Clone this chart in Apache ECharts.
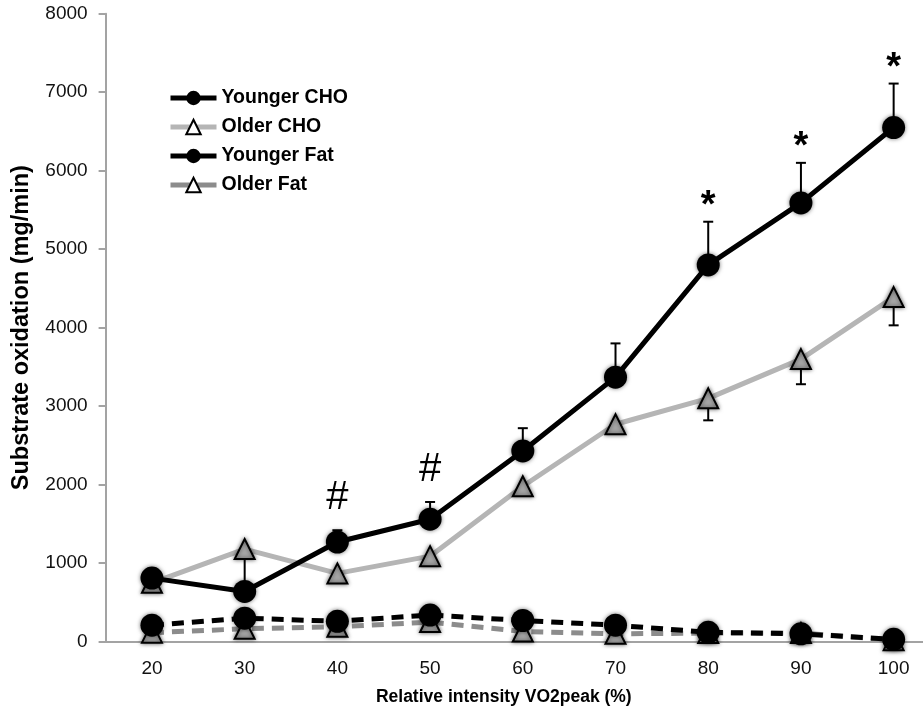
<!DOCTYPE html>
<html>
<head>
<meta charset="utf-8">
<script src="https://cdn.jsdelivr.net/npm/echarts@6/dist/echarts.min.js"></script>
<style>
  html, body { margin: 0; padding: 0; background: #fff; overflow: hidden; }
  /* plot area runs past the right edge of the page, like the source figure */
  #chart { width: 940px; height: 712px; }
</style>
</head>
<body>
<div id="chart"></div>
<script>
const intensities = ['20', '30', '40', '50', '60', '70', '80', '90', '100']
const yTicks = [0, 8000, 1000]

const youngerCho = [810, 640, 1270, 1560, 2430, 3370, 4800, 5590, 6550]
const olderCho = [750, 1180, 870, 1090, 1980, 2770, 3100, 3600, 4390]
const youngerFat = [210, 300, 260, 340, 270, 210, 120, 100, 30]
const olderFat = [115, 165, 190, 250, 130, 100, 110, 110, 20]

// SD bars: younger CHO drawn upward, older CHO drawn downward
const youngerChoSd = [0, 0, 150, 220, 290, 430, 550, 510, 560]
const olderChoSd = [0, 540, 0, 0, 0, 90, 280, 320, 360]
const marks = ['', '', '#', '#', '', '', '*', '*', '*']

const chart = echarts.init(document.getElementById('chart'))
const fontFamily = '"Liberation Sans", Arial, sans-serif'
const axisGray = '#a3a3a3'

function errorBars(values, sds, dir, withMarks) {
  return {
    type: 'custom',
    z: 1,
    silent: true,
    data: values.map((v, i) => [i, v, sds[i]]),
    renderItem(params, api) {
      const i = api.value(0)
      const v = api.value(1)
      const sd = api.value(2)
      const p0 = api.coord([i, v])
      const p1 = api.coord([i, v + dir * sd])
      const children = []
      if (sd > 0) {
        children.push({
          type: 'line',
          shape: { x1: p0[0], y1: p0[1], x2: p1[0], y2: p1[1] },
          style: { stroke: '#000', lineWidth: 2 }
        })
        children.push({
          type: 'line',
          shape: { x1: p1[0] - 5, y1: p1[1], x2: p1[0] + 5, y2: p1[1] },
          style: { stroke: '#000', lineWidth: 2 }
        })
      }
      const mark = withMarks ? marks[params.dataIndex] : ''
      if (mark) {
        const isHash = mark === '#'
        children.push({
          type: 'text',
          x: p1[0],
          y: p1[1] - (isHash ? 12 : -4),
          style: {
            text: mark,
            fill: '#000',
            font: isHash ? '40px "Liberation Sans", Arial' : 'bold 38px "Liberation Sans", Arial',
            align: 'center',
            verticalAlign: 'bottom'
          }
        })
      }
      return { type: 'group', children }
    }
  }
}

const markerShadow = { shadowBlur: 4, shadowColor: 'rgba(0,0,0,0.55)' }

chart.setOption({
  backgroundColor: '#fff',
  animation: false,
  textStyle: { fontFamily },
  legend: {
    orient: 'vertical',
    left: 163,
    top: 83,
    itemWidth: 46,
    itemHeight: 18,
    itemGap: 9,
    lineStyle: { type: 'solid', width: 5 },
    textStyle: { fontSize: 19.5, fontWeight: 'bold', color: '#000', fontFamily },
    data: [
      { name: 'Younger CHO' },
      { name: 'Older CHO', itemStyle: { color: '#fff', borderColor: '#000', borderWidth: 2 } },
      { name: 'Younger Fat' },
      { name: 'Older Fat', itemStyle: { color: '#fff', borderColor: '#000', borderWidth: 2 } }
    ]
  },
  grid: { left: 105.6, right: 0, top: 13.7, bottom: 70.3 },
  xAxis: {
    type: 'category',
    data: intensities,
    boundaryGap: true,
    name: 'Relative intensity VO2peak (%)',
    nameLocation: 'middle',
    nameGap: 46,
    nameTextStyle: { fontSize: 17.5, fontWeight: 'bold', color: '#000', padding: [0, 38, 0, 0] },
    axisLine: { lineStyle: { color: axisGray, width: 2 } },
    axisTick: { length: 6, lineStyle: { color: axisGray, width: 2 } },
    axisLabel: { fontSize: 19, color: '#111', margin: 18 }
  },
  yAxis: {
    type: 'value',
    min: yTicks[0],
    max: yTicks[1],
    interval: yTicks[2],
    name: 'Substrate oxidation (mg/min)',
    nameLocation: 'middle',
    nameGap: 72,
    nameTextStyle: { fontSize: 23.5, fontWeight: 'bold', color: '#000' },
    axisLine: { show: true, lineStyle: { color: axisGray, width: 2 } },
    axisTick: { show: true, length: 7, lineStyle: { color: axisGray, width: 2 } },
    axisLabel: { fontSize: 19, color: '#111', margin: 18, formatter: v => String(v) },
    splitLine: { show: false }
  },
  series: [
    errorBars(olderCho, olderChoSd, -1, false),
    errorBars(youngerCho, youngerChoSd, 1, true),
    {
      name: 'Older Fat',
      type: 'line',
      z: 2,
      data: olderFat,
      symbol: 'triangle',
      symbolSize: [20, 20],
      lineStyle: { color: '#8c8c8c', width: 5, type: [12, 8] },
      itemStyle: { color: '#a6a6a6', borderColor: '#000', borderWidth: 2, ...markerShadow }
    },
    {
      name: 'Younger Fat',
      type: 'line',
      z: 2,
      data: youngerFat,
      symbol: 'circle',
      symbolSize: 23,
      lineStyle: { color: '#000', width: 5, type: [12, 8] },
      itemStyle: { color: '#000', ...markerShadow }
    },
    {
      name: 'Older CHO',
      type: 'line',
      z: 3,
      data: olderCho,
      symbol: 'triangle',
      symbolSize: [20, 20],
      lineStyle: { color: '#b5b5b5', width: 5 },
      itemStyle: { color: '#a6a6a6', borderColor: '#000', borderWidth: 2, ...markerShadow }
    },
    {
      name: 'Younger CHO',
      type: 'line',
      z: 4,
      data: youngerCho,
      symbol: 'circle',
      symbolSize: 23,
      lineStyle: { color: '#000', width: 5 },
      itemStyle: { color: '#000', ...markerShadow }
    }
  ]
})
</script>
</body>
</html>
